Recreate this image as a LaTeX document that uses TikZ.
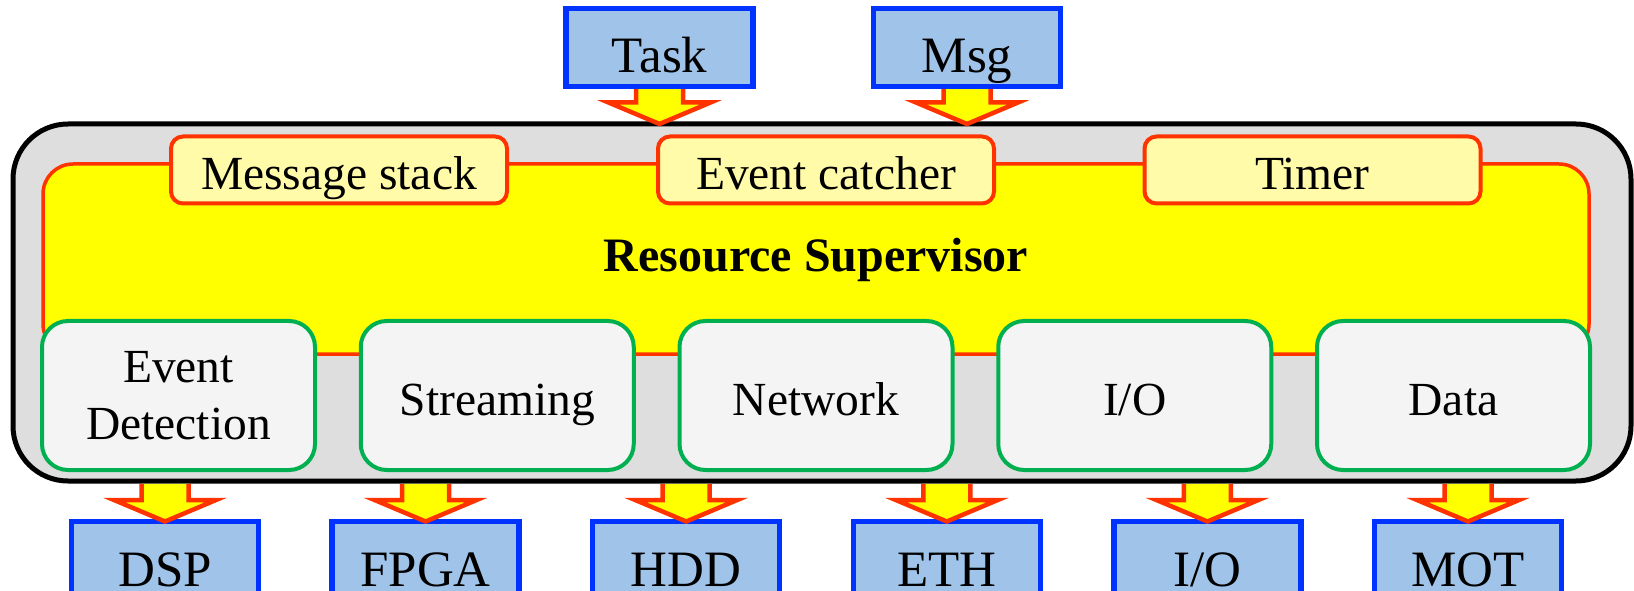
\documentclass[tikz,border=0pt]{standalone}
\usepackage{fontspec}
\setmainfont{Liberation Serif}
\usetikzlibrary{calc}

\definecolor{framegray}{HTML}{DEDEDE}
\definecolor{supyellow}{HTML}{FFFF00}
\definecolor{edgered}{HTML}{FF3300}
\definecolor{tabyellow}{HTML}{FFFBA8}
\definecolor{modgreen}{HTML}{00B050}
\definecolor{modfill}{HTML}{F4F4F4}
\definecolor{devblue}{HTML}{9FC3E9}
\definecolor{devedge}{HTML}{0033FF}

\tikzset{
  every node/.style={outer sep=0pt, inner sep=0pt},
  framebox/.style={draw=black, line width=5pt, fill=framegray,
    rounded corners=55pt, minimum width=1618pt, minimum height=357pt},
  supbox/.style={draw=edgered, line width=3.5pt, fill=supyellow,
    rounded corners=30pt, minimum width=1546pt, minimum height=190pt,
    font=\fontsize{48}{57}\selectfont\bfseries, text height=27pt, text depth=1pt},
  tabbox/.style={draw=edgered, line width=4pt, fill=tabyellow,
    rounded corners=12pt, minimum width=336pt, minimum height=67pt,
    font=\fontsize{47.5}{57}\selectfont, text height=41pt, text depth=1pt},
  modbox/.style={draw=modgreen, line width=4pt, fill=modfill,
    rounded corners=26pt, minimum width=273pt, minimum height=149pt,
    font=\fontsize{47.5}{57}\selectfont},
  modline/.style={modbox, text height=40.4pt, text depth=1.4pt},
  devbox/.style={draw=devedge, line width=5.5pt, fill=devblue,
    minimum width=187pt, minimum height=78pt,
    font=\fontsize{51}{61}\selectfont, text height=53.6pt, text depth=2.6pt},
  % broad down arrow: the top edge is left unstroked so it joins its source
  blockarrow/.style={draw=edgered, fill=supyellow, line width=4.5pt,
    line join=miter,
    to path={let \p1=(\tikztostart), \p2=(\tikztotarget) in
      (\x1-23.5pt,\y1-2.75pt) -- (\x1-23.5pt,\y2+21.5pt) -- (\x1-51pt,\y2+21.5pt)
      -- (\x1,\y2) -- (\x1+51pt,\y2+21.5pt) -- (\x1+23.5pt,\y2+21.5pt)
      -- (\x1+23.5pt,\y1-2.75pt)}},
}

\begin{document}
\begin{tikzpicture}[x=1pt,y=1pt]
\useasboundingbox (0,0) rectangle (1634,590);
\clip (0,0) rectangle (1634,590);

% supervisor frame
\node[framebox] (frame) at (822,287.5) {};
\node[supbox] (sup) at (816,331) {Resource Supervisor};

% tabs on the upper edge
\node[tabbox] (stack)   at (339,420)    {Message stack};
\node[tabbox] (catcher) at (826,420)    {Event catcher};
\node[tabbox] (timer)   at (1312.5,420) {Timer};

% modules
\node[modbox, align=center] (evdet) at (178.5,194.5) {Event\\Detection};
\node[modline] (stream) at (497.25,194.5) {Streaming};
\node[modline] (net)    at (816,194.5)    {Network};
\node[modline] (io)     at (1134.75,194.5) {I/O};
\node[modline] (data)   at (1453.5,194.5) {Data};

% inputs
\node[devbox] (task) at (659.5,542.5) {Task};
\node[devbox] (msg)  at (967,542.5)   {Msg};

% devices
\node[devbox] (dsp)  at (165,29.5)    {DSP};
\node[devbox] (fpga) at (425.6,29.5)  {FPGA};
\node[devbox] (hdd)  at (686.2,29.5)  {HDD};
\node[devbox] (eth)  at (946.8,29.5)  {ETH};
\node[devbox] (iod)  at (1207.4,29.5) {I/O};
\node[devbox] (mot)  at (1468,29.5)   {MOT};

% arrows into the supervisor
\draw[blockarrow] (task.south) to (task.south |- frame.north);
\draw[blockarrow] (msg.south)  to (msg.south |- frame.north);

% arrows out to the devices
\foreach \d in {dsp,fpga,hdd,eth,iod,mot}
  \draw[blockarrow] (frame.south -| \d.north) to (\d.north);
\end{tikzpicture}
\end{document}
